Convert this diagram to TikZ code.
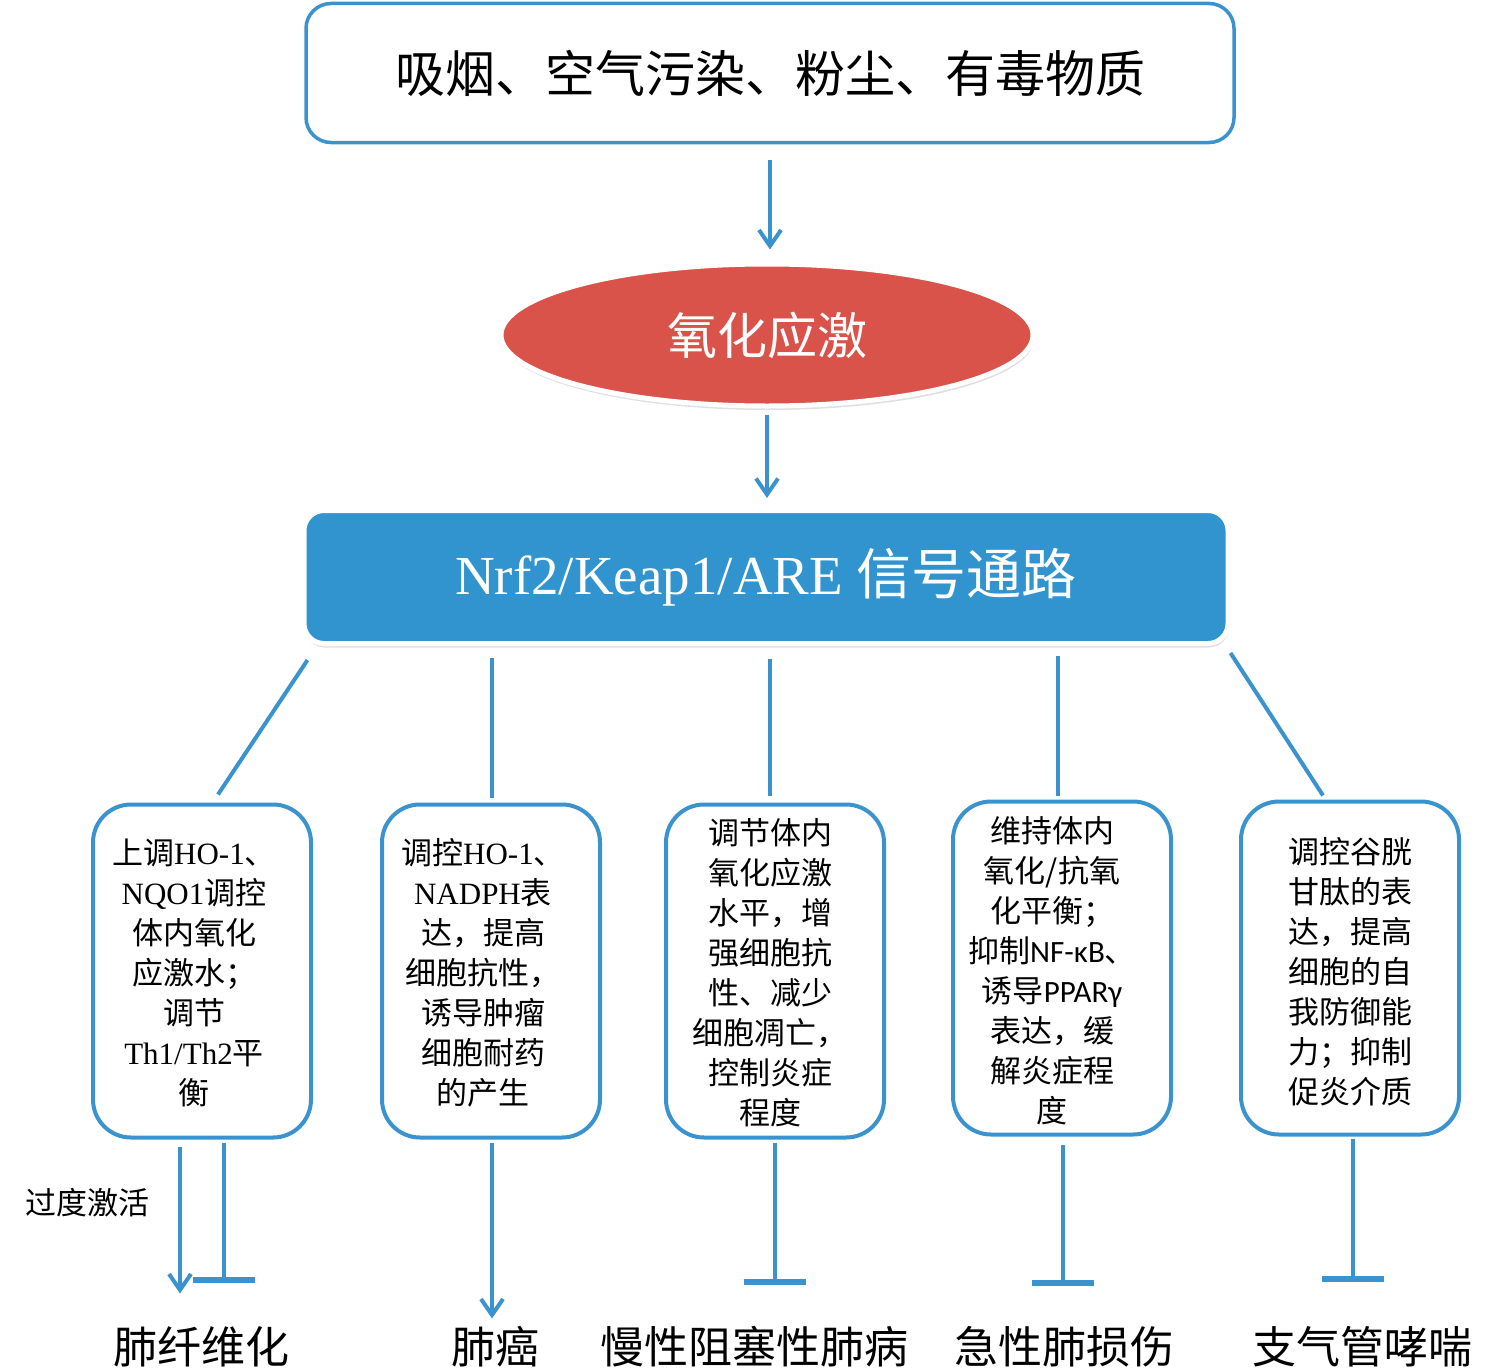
\documentclass[tikz,border=0pt]{standalone}
\usepackage{fontspec}
\setmainfont{Liberation Serif}
\newfontfamily\cjk{Noto Sans CJK SC}
\newfontfamily\calib{Carlito}
\usetikzlibrary{shapes.geometric,shadows,arrows.meta}
\definecolor{lineblue}{HTML}{3A93CF}
\definecolor{nrfblue}{HTML}{3194CF}
\definecolor{oxred}{HTML}{D9534A}
\newcommand\lt[1]{{\rmfamily #1}}
\begin{document}
\begin{tikzpicture}[x=1pt,y=-1pt,
  conn/.style={draw=lineblue, line width=4pt},
  arr/.style={conn, -{Straight Barb[length=16pt,width=22pt]}},
  inh/.style={conn, -{Bar[width=62pt,line width=6pt]}},
  topbox/.style={draw=lineblue, line width=3.5pt, rounded corners=25pt, fill=white,
    minimum width=928pt, minimum height=139pt, inner sep=0pt,
    font=\cjk\fontsize{50}{50}\selectfont},
  oxnode/.style={ellipse, fill=oxred, draw=white, line width=5pt, text=white,
    minimum width=532pt, minimum height=142pt, inner sep=0pt,
    drop shadow={shadow xshift=1pt, shadow yshift=-4pt, opacity=0.25, fill=gray},
    font=\cjk\fontsize{50}{50}\selectfont},
  nrfnode/.style={rectangle, rounded corners=20pt, fill=nrfblue, draw=white, line width=5pt, text=white,
    minimum width=924pt, minimum height=133pt, inner sep=0pt,
    drop shadow={shadow xshift=1pt, shadow yshift=-4pt, opacity=0.25, fill=gray},
    font=\rmfamily\fontsize{55}{55}\selectfont},
  effbox/.style={draw=lineblue, line width=4pt, rounded corners=38pt, fill=white,
    minimum width=218pt, minimum height=333pt, inner sep=0pt},
  efftext/.style={align=center, inner sep=0pt, font=\cjk\fontsize{31}{40}\selectfont},
  disease/.style={inner sep=0pt, font=\cjk\fontsize{44}{44}\selectfont}
]
\useasboundingbox (0,0) rectangle (1485,1370);

% top source box
\node[topbox] (src) at (770,73) {吸烟、空气污染、粉尘、有毒物质};
% oxidative stress ellipse
\node[oxnode] (ox) at (767,335) {氧化应激};
% pathway box
\node[nrfnode] (nrf) at (766,577) {Nrf2/Keap1/ARE {\cjk 信号通路}};

\draw[arr, shorten <=16pt, shorten >=12pt] (src.south) -- (src.south |- ox.north);
\draw[arr, shorten <=6pt, shorten >=10pt] (ox.south) -- (ox.south |- nrf.north);

% effect boxes
\node[effbox] (b1) at (202,971) {};
\node[effbox] (b2) at (491,971) {};
\node[effbox] (b3) at (775,971) {};
\node[effbox] (b4) at (1062,968) {};
\node[effbox] (b5) at (1350,968) {};

\node[efftext] (t1) at (194,973) {上调\lt{HO-1}、\\\lt{NQO1}调控\\体内氧化\\应激水；\\调节\\\lt{Th1/Th2}平\\衡};
\node[efftext] (t2) at (483,973) {调控\lt{HO-1}、\\\lt{NADPH}表\\达，提高\\细胞抗性，\\诱导肿瘤\\细胞耐药\\的产生};
\node[efftext] (t3) at (770,973) {调节体内\\氧化应激\\水平，增\\强细胞抗\\性、减少\\细胞凋亡，\\控制炎症\\程度};
\node[efftext] (t4) at (1052,971) {维持体内\\氧化/抗氧\\化平衡；\\抑制{\calib NF-κB}、\\诱导{\calib PPARγ}\\表达，缓\\解炎症程\\度};
\node[efftext] (t5) at (1350,972) {调控谷胱\\甘肽的表\\达，提高\\细胞的自\\我防御能\\力；抑制\\促炎介质};

% connectors from pathway box to effect boxes
\draw[conn] ([shift={(6,14)}]nrf.south west) -- ([shift={(16,-8)}]b1.north);
\draw[conn] ([shift={(1,-5)}]b2.north) -- ++(0,-140);
\draw[conn] ([shift={(-5,-7)}]b3.north) -- ++(0,-137);
\draw[conn] ([shift={(-4,-4)}]b4.north) -- ++(0,-140);
\draw[conn] ([shift={(0,7)}]nrf.south east) -- ([shift={(-27,-4)}]b5.north);

% outcomes
\draw[arr] ([shift={(-22,7)}]b1.south) -- ++(0,147);
\draw[inh] ([shift={(22,3)}]b1.south) -- ++(0,140);
\draw[arr] ([shift={(1,3)}]b2.south) -- ++(0,176);
\draw[inh] ([shift={(0,3)}]b3.south) -- ++(0,142);
\draw[inh] ([shift={(1,8)}]b4.south) -- ++(0,141);
\draw[inh] ([shift={(3,2)}]b5.south) -- ++(0,143);

\node[inner sep=0pt, font=\cjk\fontsize{31}{31}\selectfont] (over) at (87,1203) {过度激活};

\node[disease] (d1) at (201,1347) {肺纤维化};
\node[disease] (d2) at (495,1347) {肺癌};
\node[disease] (d3) at (754,1347) {慢性阻塞性肺病};
\node[disease] (d4) at (1064,1347) {急性肺损伤};
\node[disease] (d5) at (1362,1347) {支气管哮喘};
\end{tikzpicture}
\end{document}
